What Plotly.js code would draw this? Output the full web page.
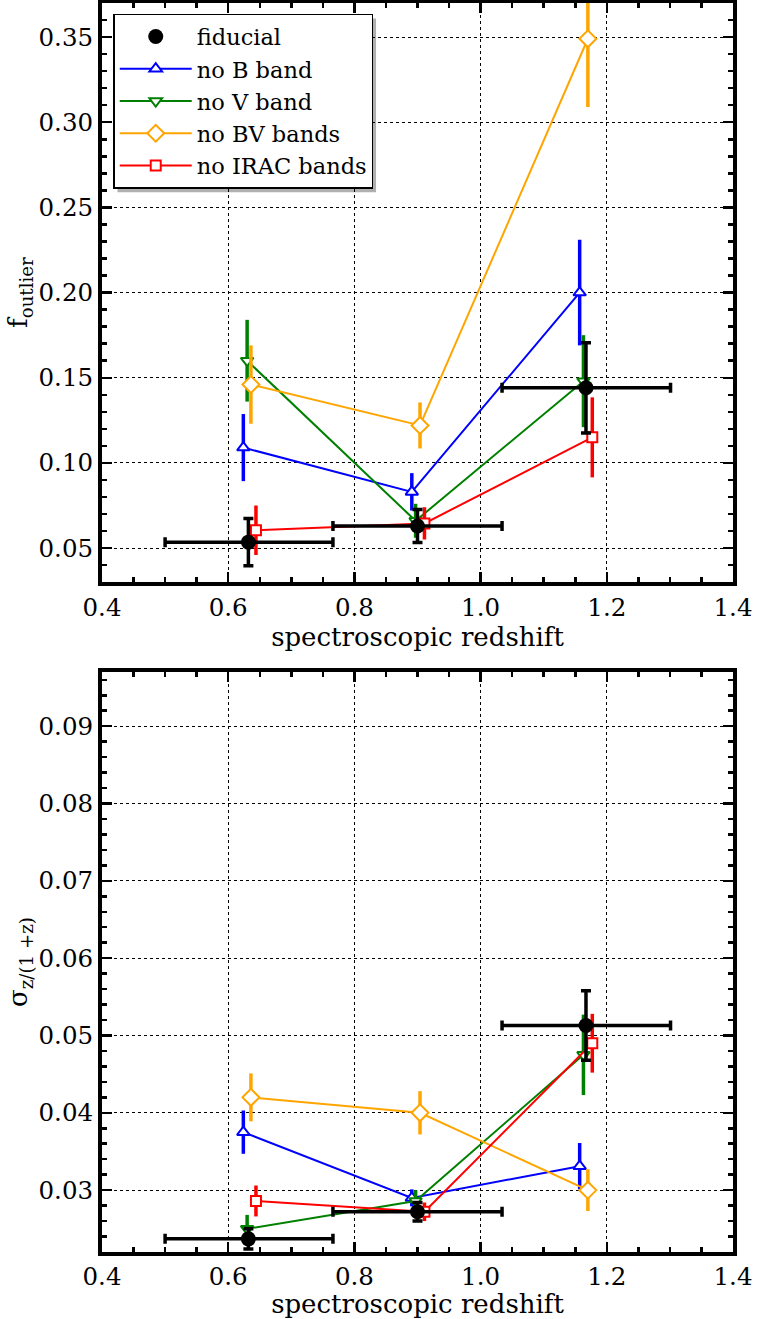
<!DOCTYPE html>
<html>
<head>
<meta charset="utf-8">
<script src="https://cdn.plot.ly/plotly-3.0.1.min.js"></script>
<style>html,body{margin:0;padding:0;background:#fff;}#chart{width:758px;height:1319px;}</style>
</head>
<body>
<div id="chart"></div>
<script>
// ---------------- data ----------------
var seriesNames = ["fiducial", "no B band", "no V band", "no BV bands", "no IRAC bands"];

// fiducial bins
var fidZ = [0.632, 0.900, 1.167];
var fidZLow = [0.500, 0.766, 1.034];
var fidZHigh = [0.766, 1.034, 1.301];
var fidFout = [0.0535, 0.063, 0.1441];
var fidFoutErr = [0.0138, 0.0097, 0.0265];
var fidSigma = [0.0237, 0.0272, 0.0513];
var fidSigmaErr = [0.0013, 0.0012, 0.0045];

// no B band
var noBZ = [0.624, 0.891, 1.157];
var noBFout = [0.109, 0.083, 0.200];
var noBFoutErr = [0.0197, 0.011, 0.031];
var noBSigma = [0.0375, 0.0290, 0.0331];
var noBSigmaErr = [0.0028, 0.0011, 0.0030];

// no V band
var noVZ = [0.630, 0.897, 1.163];
var noVFout = [0.160, 0.066, 0.148];
var noVFoutErr = [0.024, 0.010, 0.027];
var noVSigma = [0.0250, 0.0286, 0.0475];
var noVSigmaErr = [0.0018, 0.0014, 0.0052];

// no BV bands
var noBVZ = [0.636, 0.904, 1.170];
var noBVFout = [0.146, 0.122, 0.349];
var noBVFoutErr = [0.023, 0.0135, 0.040];
var noBVSigma = [0.0420, 0.0400, 0.0300];
var noBVSigmaErr = [0.0031, 0.0028, 0.0027];

// no IRAC bands
var noIRACZ = [0.644, 0.911, 1.177];
var noIRACFout = [0.0605, 0.0645, 0.115];
var noIRACFoutErr = [0.0145, 0.0095, 0.0235];
var noIRACSigma = [0.0286, 0.0272, 0.0490];
var noIRACSigmaErr = [0.0020, 0.0012, 0.0038];

var xTickVals = [0.4, 0.6, 0.8, 1.0, 1.2, 1.4];
var yTopTickVals = [0.05, 0.10, 0.15, 0.20, 0.25, 0.30, 0.35];
var yBotTickVals = [0.03, 0.04, 0.05, 0.06, 0.07, 0.08, 0.09];

// ---------------- build ----------------
var FONT = "DejaVu Serif, Liberation Serif, serif";
var TICK = 24.5, TITLE = 26, LEG = 22.5;
var fidXPlus = fidZ.map(function(z, i){ return fidZHigh[i] - z; });
var fidXMinus = fidZ.map(function(z, i){ return z - fidZLow[i]; });

function colored(name, color, symbol, msize, x, y, err, xa, ya, show, rank) {
  return {
    type: 'scatter', mode: 'lines+markers', name: name, x: x, y: y,
    xaxis: xa, yaxis: ya, showlegend: show, legendrank: rank, legendgroup: name,
    line: {color: color, width: 2},
    marker: {symbol: symbol, size: msize, color: '#ffffff', line: {color: color, width: 2}},
    error_y: {type: 'data', array: err, visible: true, color: color, thickness: 3.5, width: 0}
  };
}
function fiducial(y, err, xa, ya, show) {
  return {
    type: 'scatter', mode: 'markers', name: seriesNames[0], x: fidZ, y: y,
    xaxis: xa, yaxis: ya, showlegend: show, legendrank: 1, legendgroup: seriesNames[0],
    marker: {symbol: 'circle', size: 15, color: '#000'},
    error_y: {type: 'data', array: err, visible: true, color: '#000', thickness: 3.5, width: 5},
    error_x: {type: 'data', symmetric: false, array: fidXPlus, arrayminus: fidXMinus, visible: true, color: '#000', thickness: 3.5, width: 5}
  };
}

var traces = [
  colored(seriesNames[1], '#0000ff', 'triangle-up', 11, noBZ, noBFout, noBFoutErr, 'x', 'y', true, 2),
  colored(seriesNames[2], '#008000', 'triangle-down', 11, noVZ, noVFout, noVFoutErr, 'x', 'y', true, 3),
  colored(seriesNames[3], '#ffa500', 'diamond', 13, noBVZ, noBVFout, noBVFoutErr, 'x', 'y', true, 4),
  colored(seriesNames[4], '#ff0000', 'square', 10, noIRACZ, noIRACFout, noIRACFoutErr, 'x', 'y', true, 5),
  fiducial(fidFout, fidFoutErr, 'x', 'y', true),
  colored(seriesNames[1], '#0000ff', 'triangle-up', 11, noBZ, noBSigma, noBSigmaErr, 'x2', 'y2', false, 2),
  colored(seriesNames[2], '#008000', 'triangle-down', 11, noVZ, noVSigma, noVSigmaErr, 'x2', 'y2', false, 3),
  colored(seriesNames[3], '#ffa500', 'diamond', 13, noBVZ, noBVSigma, noBVSigmaErr, 'x2', 'y2', false, 4),
  colored(seriesNames[4], '#ff0000', 'square', 10, noIRACZ, noIRACSigma, noIRACSigmaErr, 'x2', 'y2', false, 5),
  fiducial(fidSigma, fidSigmaErr, 'x2', 'y2', false)
];

function xAxis(anchor) {
  return {
    anchor: anchor, domain: [0, 1], range: [0.4, 1.4],
    tickvals: xTickVals, tickformat: '.1f',
    ticks: 'inside', ticklen: 10, tickwidth: 2.5, tickcolor: '#000',
    minor: {dtick: 0.05, tick0: 0.4, ticks: 'inside', ticklen: 5, tickwidth: 2.5, tickcolor: '#000', showgrid: false},
    showline: true, linewidth: 4, linecolor: '#000', mirror: 'allticks',
    showgrid: true, gridcolor: '#000', gridwidth: 1, griddash: 'dot',
    zeroline: false,
    tickfont: {family: FONT, size: TICK, color: '#000'},
    title: {text: 'spectroscopic redshift', font: {family: FONT, size: TITLE, color: '#000'}, standoff: 3},
    automargin: false
  };
}
function yAxis(anchor, dom, range, vals, dminor, title) {
  return {
    anchor: anchor, domain: dom, range: range,
    tickvals: vals, tickformat: '.2f',
    ticks: 'inside', ticklen: 10, tickwidth: 2.5, tickcolor: '#000',
    minor: {dtick: dminor, tick0: 0, ticks: 'inside', ticklen: 5, tickwidth: 2.5, tickcolor: '#000', showgrid: false},
    showline: true, linewidth: 4, linecolor: '#000', mirror: 'allticks',
    showgrid: true, gridcolor: '#000', gridwidth: 1, griddash: 'dot',
    zeroline: false,
    tickfont: {family: FONT, size: TICK, color: '#000'},
    title: {text: title, font: {family: FONT, size: TITLE, color: '#000'}, standoff: 4},
    automargin: false
  };
}

var layout = {
  width: 758, height: 1319,
  margin: {l: 101.5, r: 24.5, t: 2.5, b: 67.3},
  paper_bgcolor: '#fff', plot_bgcolor: '#fff',
  font: {family: FONT, color: '#000'},
  xaxis: xAxis('y'),
  yaxis: yAxis('x', [0.5363, 1], [0.03, 0.37], yTopTickVals, 0.01, 'f<sub>outlier</sub>'),
  xaxis2: xAxis('y2'),
  yaxis2: yAxis('x2', [0, 0.4643], [0.022, 0.097], yBotTickVals, 0.002, 'σ<sub>z/(1 +z)</sub>'),
  showlegend: true,
  legend: {
    x: 0.0178, y: 0.9913, xanchor: 'left', yanchor: 'top',
    bgcolor: '#fff', bordercolor: '#000', borderwidth: 1.5,
    font: {family: FONT, size: LEG, color: '#000'},
    itemwidth: 72, tracegroupgap: 0, traceorder: 'grouped'
  },
  shapes: [
    {type: 'rect', xref: 'paper', yref: 'paper', x0: 0.0245, x1: 0.4343, y0: 0.8485, y1: 0.9876,
     fillcolor: '#b0b0b0', line: {width: 0}, layer: 'below'}
  ]
};

Plotly.newPlot('chart', traces, layout, {displayModeBar: false, staticPlot: true});
</script>
</body>
</html>
